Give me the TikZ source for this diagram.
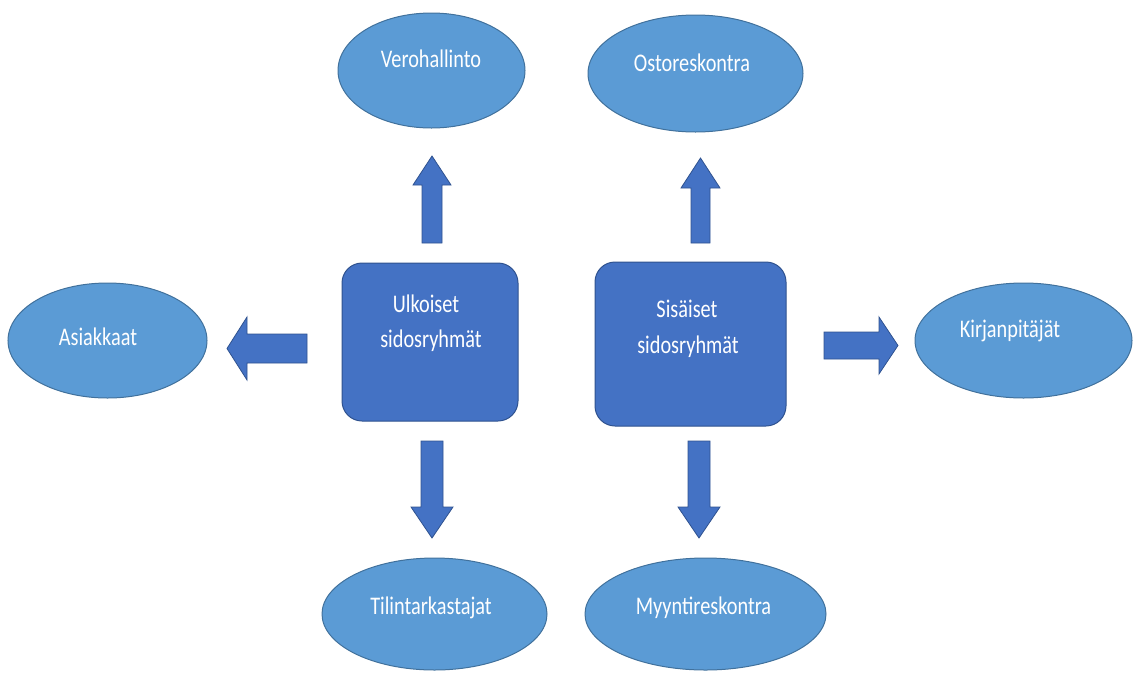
\documentclass[tikz,border=0pt]{standalone}
\usepackage{fontspec}
\setmainfont{Carlito}
\usetikzlibrary{shapes.geometric}
\definecolor{boxblue}{HTML}{4472C4}
\definecolor{boxedge}{HTML}{2F528F}
\definecolor{ellblue}{HTML}{5B9BD5}
\definecolor{elledge}{HTML}{41719C}
\newcommand\tallt[1]{\scalebox{1}[1.25]{#1}}
\newcommand\blockarr[6]{\draw[barrow, shift={(#1)}, rotate=#2]
  (0,{-#6/2}) -- ({#3-#4},{-#6/2}) -- ({#3-#4},{-#5/2}) -- (#3,0) --
  ({#3-#4},{#5/2}) -- ({#3-#4},{#6/2}) -- (0,{#6/2}) -- cycle;}
\begin{document}
\begin{tikzpicture}[x=1pt,y=-1pt,
  ell/.style={ellipse, draw=elledge, fill=ellblue, line width=1pt, inner sep=0pt},
  grp/.style={rectangle, rounded corners=20pt, draw=boxedge, fill=boxblue, line width=1pt, inner sep=0pt},
  lbl/.style={text=white, font=\fontsize{20.3}{24}\selectfont, anchor=base, inner sep=0pt},
  barrow/.style={fill=boxblue, draw=boxedge, line width=0.8pt, line join=miter}]
\useasboundingbox (0,0) rectangle (1133,673);
% ellipses
\node[ell, minimum width=187pt, minimum height=115pt] (vero) at (431.5,70.5) {};
\node[ell, minimum width=215pt, minimum height=117pt] (osto) at (695.5,73.5) {};
\node[ell, minimum width=199pt, minimum height=115pt] (asia) at (107.5,340.5) {};
\node[ell, minimum width=217pt, minimum height=115pt] (kirj) at (1023.5,340.5) {};
\node[ell, minimum width=225pt, minimum height=112pt] (tili) at (434.5,614) {};
\node[ell, minimum width=241pt, minimum height=112pt] (myyn) at (705.5,614) {};
% group boxes
\node[grp, minimum width=176pt, minimum height=158pt] (ulk) at (430,342) {};
\node[grp, minimum width=191pt, minimum height=164pt] (sis) at (690.5,344) {};
% labels
\node[lbl] (veroT) at (431,67) {\tallt{Verohallinto}};
\node[lbl] (ostoT) at (692,71) {\tallt{Ostoreskontra}};
\node[lbl] (asiaT) at (98,345) {\tallt{Asiakkaat}};
\node[lbl] (kirjT) at (1010,337) {\tallt{Kirjanpitäjät}};
\node[lbl] (tiliT) at (431,614) {\tallt{Tilintarkastajat}};
\node[lbl] (myynT) at (703.5,614) {\tallt{Myyntireskontra}};
\node[lbl] (ulkT1) at (426,312) {\tallt{Ulkoiset}};
\node[lbl] (ulkT2) at (431,347) {\tallt{sidosryhmät}};
\node[lbl] (sisT1) at (687,317) {\tallt{Sisäiset}};
\node[lbl] (sisT2) at (688,353) {\tallt{sidosryhmät}};
% block arrows
\coordinate (aU1) at (432,243);
\coordinate (aU2) at (700.5,243);
\coordinate (aL) at (307,348.5);
\coordinate (aR) at (824,345.5);
\coordinate (aD1) at (432,441);
\coordinate (aD2) at (699,441);
\blockarr{aU1}{90}{87}{29}{38}{20}
\blockarr{aU2}{90}{85}{30}{39}{19}
\blockarr{aL}{180}{80}{20}{63}{29}
\blockarr{aR}{0}{74}{19}{57}{27}
\blockarr{aD1}{-90}{97}{31}{42}{22}
\blockarr{aD2}{-90}{97}{31}{42}{22}
\end{tikzpicture}
\end{document}
